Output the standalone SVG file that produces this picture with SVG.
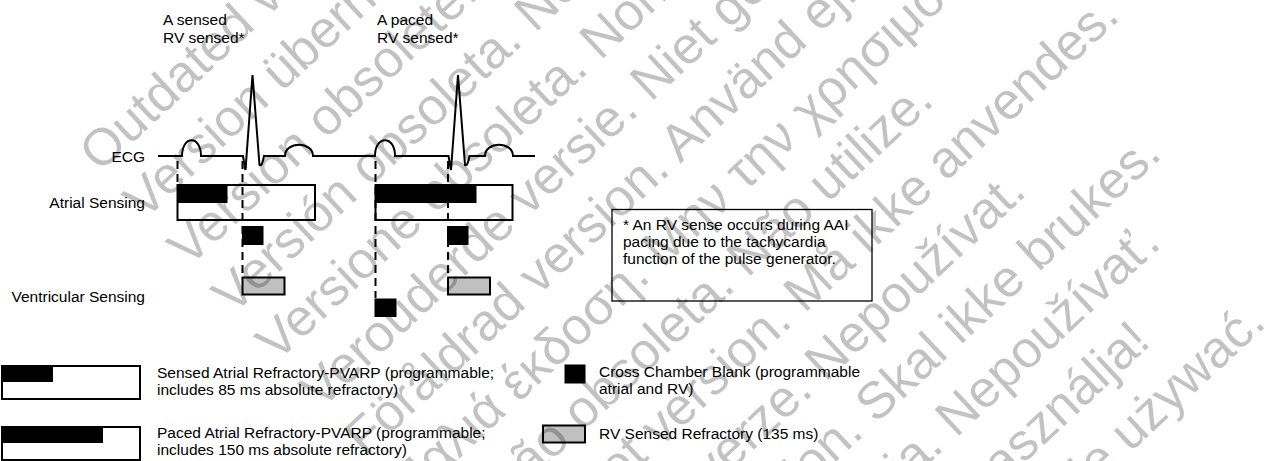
<svg xmlns="http://www.w3.org/2000/svg" width="1274" height="461" viewBox="0 0 1274 461">
<style>
  text { font-family: "Liberation Sans", Arial, sans-serif; font-size: 15.5px; fill: #000; }
  .lbl { text-anchor: end; }
  .box { fill: none; stroke: #000; stroke-width: 2; }
  .blk { fill: #000; stroke: none; }
  .gray { fill: #c0c0c0; stroke: #000; stroke-width: 2; }
  .dash { fill: none; stroke: #000; stroke-width: 2; stroke-dasharray: 8 5; }
  .ecg { fill: none; stroke: #000; stroke-width: 2; stroke-linejoin: miter; }
  .wm text { font-size: 52px; fill: #000; fill-opacity: 0.24; }
</style>
<rect width="1274" height="461" fill="#fff"/>

<g id="labels">
  <text x="163" y="25">A sensed</text>
  <text x="163" y="43">RV sensed*</text>
  <text x="377" y="25">A paced</text>
  <text x="377" y="43">RV sensed*</text>
  <text class="lbl" x="145" y="162">ECG</text>
  <text class="lbl" x="145" y="207.5">Atrial Sensing</text>
  <text class="lbl" x="145" y="302">Ventricular Sensing</text>
</g>

<g id="ecg">
  <path class="ecg" d="M158,156 H182 C182,135 201,135 201,156 H243 L245.5,170 L252.5,75 L259.5,165 Q262,167 264,156 H285 C285,141 313,141 313,156 H375 C375,135 395,135 395,156 H448.5 L451,170 L458,75 L465,165 Q467.5,167 469.5,156 H485 C485,141 513,141 513,156 H535"/>
</g>

<g id="connectors">
  <line class="dash" x1="177.5" y1="161" x2="177.5" y2="185"/>
  <line class="dash" x1="242.5" y1="161" x2="242.5" y2="277"/>
  <line class="dash" x1="375.5" y1="161" x2="375.5" y2="298"/>
  <line class="dash" x1="448" y1="161" x2="448" y2="277"/>
</g>

<g id="atrial-sensed">
  <rect class="blk" x="177.5" y="185" width="50" height="18"/>
  <rect class="box" x="177.5" y="185" width="137.5" height="35"/>
</g>
<g id="atrial-paced">
  <rect class="blk" x="375.5" y="185" width="101" height="18"/>
  <rect class="box" x="375.5" y="185" width="137" height="35"/>
</g>
<g id="ccb-1"><rect class="blk" x="242" y="226" width="21.5" height="19"/></g>
<g id="ccb-2"><rect class="blk" x="447" y="226" width="21.5" height="19"/></g>
<g id="ccb-3"><rect class="blk" x="374.5" y="298.5" width="22" height="18.5"/></g>
<g id="rvsr-1"><rect class="gray" x="242.5" y="277.5" width="42" height="17"/></g>
<g id="rvsr-2"><rect class="gray" x="448" y="277.5" width="42" height="17"/></g>

<g id="note">
  <rect x="612" y="209.5" width="260" height="91.5" fill="none" stroke="#000" stroke-width="1.3"/>
  <text x="623" y="230">* An RV sense occurs during AAI</text>
  <text x="623" y="247">pacing due to the tachycardia</text>
  <text x="623" y="264">function of the pulse generator.</text>
</g>

<g id="legend-sensed">
  <rect class="blk" x="2" y="366" width="51" height="16"/>
  <rect class="box" x="2" y="366" width="138" height="33"/>
  <text x="157" y="378">Sensed Atrial Refractory-PVARP (programmable;</text>
  <text x="157" y="395">includes 85 ms absolute refractory)</text>
</g>
<g id="legend-paced">
  <rect class="blk" x="2" y="427" width="101" height="16"/>
  <rect class="box" x="2" y="427" width="138" height="33"/>
  <text x="157" y="438">Paced Atrial Refractory-PVARP (programmable;</text>
  <text x="157" y="454.5">includes 150 ms absolute refractory)</text>
</g>
<g id="legend-ccb">
  <rect class="blk" x="564.5" y="364.5" width="21" height="19"/>
  <text x="599" y="377">Cross Chamber Blank (programmable</text>
  <text x="599" y="394">atrial and RV)</text>
</g>
<g id="legend-rvsr">
  <rect class="gray" x="543" y="425.5" width="42" height="17"/>
  <text x="599" y="438.5">RV Sensed Refractory (135 ms)</text>
</g>

<g id="watermark" class="wm" transform="rotate(-43)">
  <text x="-45" y="195">Outdated version. Do not use.</text>
  <text x="-45" y="259.8">Version überholt. Nicht verwenden.</text>
  <text x="-45" y="324.6">Version obsolète. Ne pas utiliser.</text>
  <text x="-45" y="389.4">Versión obsoleta. No utilizar.</text>
  <text x="-45" y="454.2">Versione obsoleta. Non utilizzare.</text>
  <text x="-45" y="519">Verouderde versie. Niet gebruiken.</text>
  <text x="-45" y="583.8">Föråldrad version. Använd ej.</text>
  <text x="-45" y="648.6">Παλιά έκδοση. Μην την χρησιμοποιείτε.</text>
  <text x="-45" y="713.4">Versão obsoleta. Não utilize.</text>
  <text x="-45" y="778.2">Forældet version. Må ikke anvendes.</text>
  <text x="-45" y="843">Zastaralá verze. Nepoužívat.</text>
  <text x="-45" y="907.8">Utdatert versjon. Skal ikke brukes.</text>
  <text x="-45" y="972.6">Neaktuálna verzia. Nepoužívať.</text>
  <text x="-45" y="1037.4">Elavult verzió. Ne használja!</text>
  <text x="-45" y="1102.2">Wersja nieaktualna. Nie używać.</text>
</g>
</svg>
